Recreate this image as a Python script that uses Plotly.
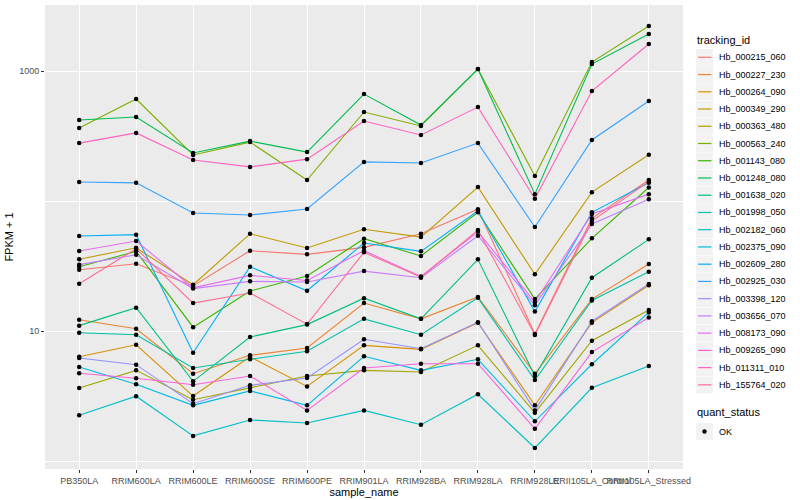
import plotly.graph_objects as go

samples = ["PB350LA", "RRIM600LA", "RRIM600LE", "RRIM600SE", "RRIM600PE", "RRIM901LA",
           "RRIM928BA", "RRIM928LA", "RRIM928LE", "RRII105LA_Control", "RRII105LA_Stressed"]

tracking_ids = ["Hb_000215_060", "Hb_000227_230", "Hb_000264_090", "Hb_000349_290", "Hb_000363_480",
                "Hb_000563_240", "Hb_001143_080", "Hb_001248_080", "Hb_001638_020", "Hb_001998_050",
                "Hb_002182_060", "Hb_002375_090", "Hb_002609_280", "Hb_002925_030", "Hb_003398_120",
                "Hb_003656_070", "Hb_008173_090", "Hb_009265_090", "Hb_011311_010", "Hb_155764_020"]

colors = ["#F8766D", "#EA8331", "#D89000", "#C09B00", "#A3A500", "#7CAE00", "#39B600", "#00BB4E",
          "#00BF7D", "#00C1A3", "#00BFC4", "#00BAE0", "#00B0F6", "#35A2FF", "#9590FF", "#C77CFF",
          "#E76BF3", "#FA62DB", "#FF62BC", "#FF6C91"]

# FPKM + 1 values, one list per tracking_id (same order as samples)
Hb_000215_060 = [29.6, 32.9, 22.2, 41.5, 38.9, 44.0, 56.0, 86.4, 9.48, 73.6, 145]
Hb_000227_230 = [12.2, 10.4, 4.69, 6.50, 7.40, 16.4, 12.4, 18.3, 4.69, 17.6, 32.8]
Hb_000264_090 = [6.34, 7.84, 3.16, 6.34, 3.75, 7.76, 7.23, 11.6, 2.68, 11.6, 22.5]
Hb_000349_290 = [35.6, 43.7, 22.7, 56.0, 43.5, 60.6, 52.8, 128, 27.3, 117, 227]
Hb_000363_480 = [3.64, 4.98, 2.96, 3.66, 4.51, 4.98, 4.84, 7.76, 2.35, 8.42, 14.5]
Hb_000563_240 = [364, 609, 226, 284, 145, 484, 378, 1036, 156, 1173, 2220]
Hb_001143_080 = [31.2, 41.0, 10.7, 20.3, 26.5, 51.3, 37.8, 81.9, 17.6, 51.7, 127]
Hb_001248_080 = [420, 443, 234, 289, 238, 665, 384, 1036, 113, 1132, 1925]
Hb_001638_020 = [11.0, 15.1, 4.10, 8.99, 11.2, 17.9, 12.4, 35.6, 4.51, 25.7, 50.7]
Hb_001998_050 = [9.70, 9.37, 5.19, 6.06, 6.98, 12.4, 9.37, 18.0, 4.20, 17.2, 28.6]
Hb_002182_060 = [2.25, 3.15, 1.56, 2.07, 1.96, 2.45, 1.90, 3.26, 1.26, 3.66, 5.38]
Hb_002375_090 = [5.28, 3.89, 2.68, 3.46, 2.68, 6.39, 4.98, 6.06, 2.02, 5.55, 13.9]
Hb_002609_280 = [53.8, 55.1, 6.81, 31.2, 20.4, 47.5, 41.0, 84.2, 14.1, 81.9, 138]
Hb_002925_030 = [140, 138, 80.9, 78.0, 86.8, 200, 196, 279, 63.1, 295, 588]
Hb_003398_120 = [6.20, 5.51, 2.76, 3.82, 4.35, 8.64, 7.31, 11.7, 2.45, 11.9, 23.0]
Hb_003656_070 = [32.4, 38.6, 21.2, 24.1, 23.8, 28.9, 25.7, 54.1, 15.8, 66.5, 103]
Hb_008173_090 = [41.2, 49.2, 21.5, 26.8, 24.5, 41.5, 26.3, 58.0, 16.7, 79.4, 113]
Hb_009265_090 = [4.73, 4.33, 3.86, 4.51, 2.45, 5.19, 5.60, 5.60, 1.77, 6.89, 12.7]
Hb_011311_010 = [279, 334, 207, 183, 210, 412, 322, 528, 104, 702, 1613]
Hb_155764_020 = [23.1, 43.0, 16.4, 19.6, 11.3, 40.3, 26.0, 59.8, 9.32, 70.2, 141]

series = [Hb_000215_060, Hb_000227_230, Hb_000264_090, Hb_000349_290, Hb_000363_480,
          Hb_000563_240, Hb_001143_080, Hb_001248_080, Hb_001638_020, Hb_001998_050,
          Hb_002182_060, Hb_002375_090, Hb_002609_280, Hb_002925_030, Hb_003398_120,
          Hb_003656_070, Hb_008173_090, Hb_009265_090, Hb_011311_010, Hb_155764_020]

quant_status = ["OK"]

W, H = 800, 500
ML, MR, MT, MB = 45, 117, 5, 31
PW, PH = W - ML - MR, H - MT - MB


def px(xp):
    return (xp - ML) / PW


def py(yp):
    return (H - MB - yp) / PH


fig = go.Figure()
for name, vals, col in zip(tracking_ids, series, colors):
    fig.add_trace(go.Scatter(x=samples, y=vals, mode="lines", name=name, showlegend=False,
                             line=dict(color=col, width=1.1)))

all_x, all_y = [], []
for vals in series:
    all_x += samples
    all_y += vals
fig.add_trace(go.Scatter(x=all_x, y=all_y, mode="markers", name=quant_status[0], showlegend=False,
                         marker=dict(color="black", size=4.5, symbol="circle")))

# ggplot-style legend drawn with shapes and annotations
shapes, annotations = [], []
font = "Liberation Sans, Arial, sans-serif"
annotations.append(dict(text="tracking_id", x=px(695), y=py(40.5), xref="paper", yref="paper",
                        xanchor="left", yanchor="middle", showarrow=False,
                        font=dict(size=11, color="black", family=font)))
key0, step = 57.3, 17.24
for i, (name, col) in enumerate(zip(tracking_ids, colors)):
    yc = key0 + i * step
    shapes.append(dict(type="rect", xref="paper", yref="paper",
                       x0=px(696), x1=px(713), y0=py(yc - 8.4), y1=py(yc + 8.4),
                       fillcolor="#F2F2F2", line=dict(width=0), layer="above"))
    shapes.append(dict(type="line", xref="paper", yref="paper",
                       x0=px(698), x1=px(711.5), y0=py(yc), y1=py(yc),
                       line=dict(color=col, width=1.2), layer="above"))
    annotations.append(dict(text=name, x=px(717), y=py(yc), xref="paper", yref="paper",
                            xanchor="left", yanchor="middle", showarrow=False,
                            font=dict(size=9, color="black", family=font)))

yq = 412
annotations.append(dict(text="quant_status", x=px(695), y=py(yq), xref="paper", yref="paper",
                        xanchor="left", yanchor="middle", showarrow=False,
                        font=dict(size=11, color="black", family=font)))
yc = yq + 19.5
shapes.append(dict(type="rect", xref="paper", yref="paper",
                   x0=px(696), x1=px(713), y0=py(yc - 8.4), y1=py(yc + 8.4),
                   fillcolor="#F2F2F2", line=dict(width=0), layer="above"))
shapes.append(dict(type="circle", xref="paper", yref="paper",
                   x0=px(702.3), x1=px(706.7), y0=py(yc - 2.2), y1=py(yc + 2.2),
                   fillcolor="black", line=dict(width=0), layer="above"))
annotations.append(dict(text=quant_status[0], x=px(717), y=py(yc), xref="paper", yref="paper",
                        xanchor="left", yanchor="middle", showarrow=False,
                        font=dict(size=9, color="black", family=font)))

fig.update_layout(
    width=W, height=H,
    margin=dict(l=ML, r=MR, t=MT, b=MB, autoexpand=False),
    paper_bgcolor="white", plot_bgcolor="#EBEBEB",
    font=dict(family=font, size=9, color="#000000"),
    showlegend=False,
    shapes=shapes, annotations=annotations,
    xaxis=dict(type="category", categoryorder="array", categoryarray=samples, automargin=False,
               range=[-0.6, 10.6], tickangle=0, showgrid=True, gridcolor="white", gridwidth=1.1,
               ticks="outside", ticklen=3, tickcolor="#333333", tickwidth=1,
               tickfont=dict(size=9, color="#4D4D4D"), zeroline=False,
               title=dict(text="sample_name", font=dict(size=11, color="black"), standoff=1)),
    yaxis=dict(type="log", range=[-0.0615, 3.508], tickvals=[10, 1000], ticktext=["10", "1000"],
               automargin=False, showgrid=True, gridcolor="white", gridwidth=1.1,
               minor=dict(tickvals=[1, 100], showgrid=True, gridcolor="white", gridwidth=0.5, ticks=""),
               ticks="outside", ticklen=3, tickcolor="#333333", tickwidth=1,
               tickfont=dict(size=9, color="#4D4D4D"), zeroline=False,
               title=dict(text="FPKM + 1", font=dict(size=11, color="black"), standoff=3)),
)

fig.write_html("out.html", config={"displayModeBar": False},
               post_script="document.body.style.margin='0';document.body.style.padding='0';")
